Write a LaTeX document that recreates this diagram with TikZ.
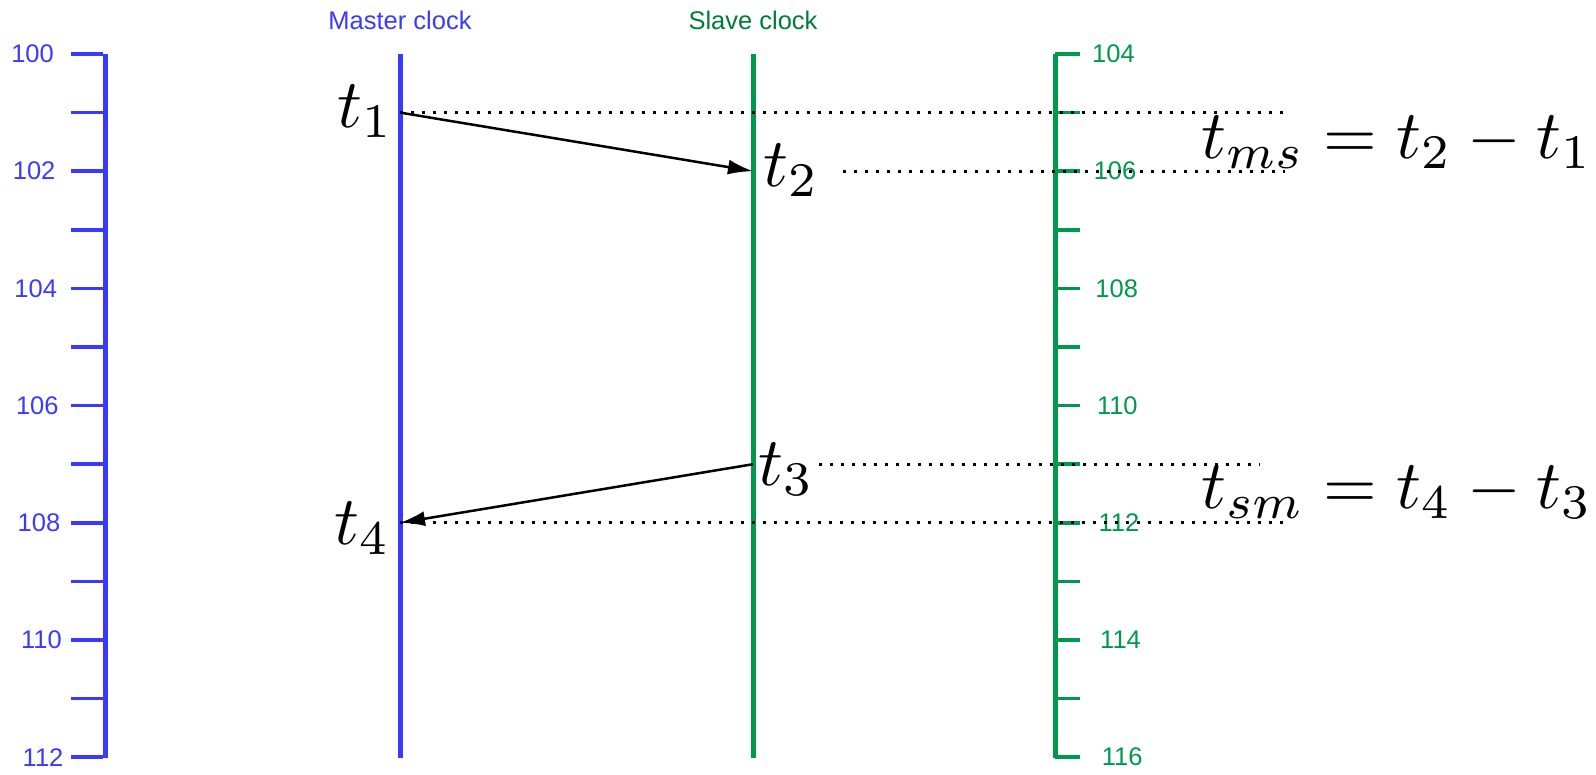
\documentclass[tikz,border=0pt]{standalone}
\usepackage{fontspec}
\setsansfont{Liberation Sans}
\usepackage{tikz}
\usetikzlibrary{arrows.meta}
\definecolor{clockblue}{HTML}{3A3AFF}
\definecolor{clockgreen}{HTML}{00994C}
\definecolor{titlegreen}{HTML}{007A3D}
\tikzset{
  axisline/.style={line width=5pt},
  tickline/.style={line width=3.5pt},
  ticklabel/.style={font=\sffamily\fontsize{25.5}{28}\selectfont, inner sep=0pt},
  stamp/.style={font=\fontsize{10}{12}\selectfont, inner sep=0pt, scale=6.9, transform shape},
  msg/.style={line width=2.5pt, -{Latex[length=25pt,width=15pt]}},
  dotline/.style={line width=2.8pt, dash pattern=on 2.8pt off 8.2pt},
}

\begin{document}
\begin{tikzpicture}[x=1pt,y=-1pt]
  \useasboundingbox (0,0) rectangle (1596,774);
  % Skalen
  \coordinate (btop) at (105,54);
  \coordinate (bbot) at (105,758);
  \coordinate (gtop) at (1055,54);
  \coordinate (gbot) at (1055,758);
  \draw[axisline,clockblue] (btop) -- (bbot);
  \draw[axisline,clockgreen] (gtop) -- (gbot);
  \foreach \k [evaluate=\k as \y using 54+58.6*\k] in {0,...,12} {
    \draw[tickline,clockblue] (71,\y) -- (103,\y);
    \draw[tickline,clockgreen] (1055,\y) -- (1080,\y);
  }
  \foreach \k [evaluate=\k as \y using 54+58.6*\k,
               evaluate=\k as \bv using int(100+\k),
               evaluate=\k as \gv using int(104+\k)] in {0,2,...,12} {
    \node[ticklabel,clockblue,anchor=east] (b\bv) at (54+0.8*\k,\y) {\bv};
    \node[ticklabel,clockgreen,anchor=west] (g\gv) at (1092+0.8*\k,\y) {\gv};
  }
  % Uhren
  \coordinate (mtop) at (400,54);
  \coordinate (mbot) at (400,758);
  \coordinate (stop) at (753,54);
  \coordinate (sbot) at (753,758);
  \draw[axisline,clockblue] (mtop) -- (mbot);
  \draw[axisline,clockgreen] (stop) -- (sbot);
  \node[ticklabel,clockblue] (mtitle) at (400,20) {Master clock};
  \node[ticklabel,titlegreen] (stitle) at (753,20) {Slave clock};
  % Zeitpunkte
  \coordinate (t1) at (400,112.6);
  \coordinate (t2) at (753,171.2);
  \coordinate (t3) at (753,464.2);
  \coordinate (t4) at (400,522.8);
  \coordinate (d1) at (1285,112.6);
  \coordinate (d2a) at (843,171.2);
  \coordinate (d2) at (1285,171.2);
  \coordinate (d3a) at (819,464.2);
  \coordinate (d3) at (1260,464.2);
  \coordinate (d4) at (1285,522.8);
  \draw[dotline] (t1) -- (d1);
  \draw[dotline] (d2a) -- (d2);
  \draw[dotline] (d3a) -- (d3);
  \draw[dotline] (t4) -- (d4);
  \draw[msg] (t1) -- (t2);
  \draw[msg] (t3) -- (t4);
  \node[stamp,anchor=base east] (l1) at (395,127.5) {$t_1$};
  \node[stamp,anchor=base west] (l2) at (762,186.5) {$t_2$};
  \node[stamp,anchor=base west] (l3) at (757,485) {$t_3$};
  \node[stamp,anchor=base east] (l4) at (392,544) {$t_4$};
  % Gleichungen
  \node[stamp,anchor=base east] (ems) at (1594,158) {$t_{ms} = t_2 - t_1$};
  \node[stamp,anchor=base east] (esm) at (1594,508) {$t_{sm} = t_4 - t_3$};
\end{tikzpicture}
\end{document}
